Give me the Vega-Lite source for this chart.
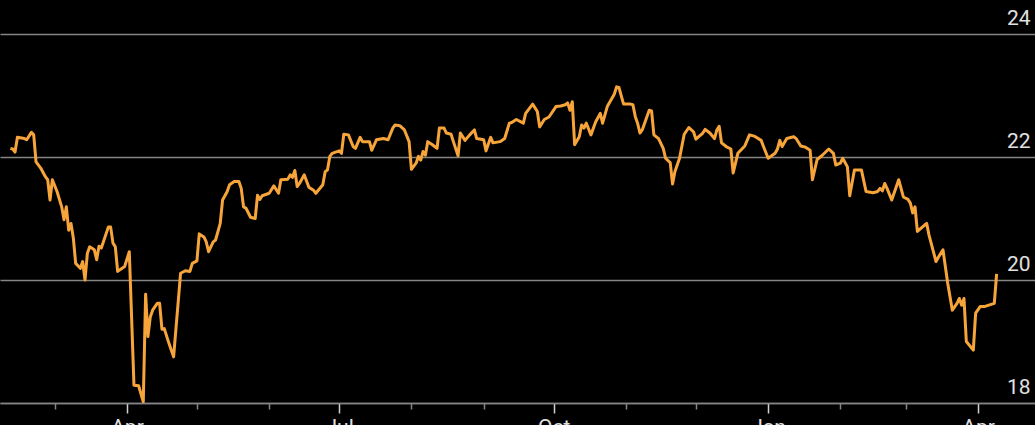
{
  "$schema": "https://vega.github.io/schema/vega-lite/v6.json",
  "width": 1035,
  "height": 403,
  "autosize": {"type": "none"},
  "padding": {"left": 0, "top": 0, "right": 0, "bottom": 22},
  "background": "#000000",
  "config": {"view": {"stroke": null}, "font": "Roboto"},
  "data": {"values": [
    {"d":"2025-02-10","v":22.14},{"d":"2025-02-11","v":22.13},{"d":"2025-02-12","v":22.08},{"d":"2025-02-13","v":22.32},
    {"d":"2025-02-16","v":22.30},{"d":"2025-02-17","v":22.28},{"d":"2025-02-19","v":22.40},{"d":"2025-02-20","v":22.36},
    {"d":"2025-02-21","v":21.92},{"d":"2025-02-23","v":21.82},{"d":"2025-02-25","v":21.68},{"d":"2025-02-26","v":21.63},
    {"d":"2025-02-27","v":21.30},{"d":"2025-02-28","v":21.63},{"d":"2025-03-02","v":21.44},{"d":"2025-03-04","v":21.19},
    {"d":"2025-03-05","v":20.98},{"d":"2025-03-06","v":21.19},{"d":"2025-03-07","v":20.81},{"d":"2025-03-08","v":20.92},
    {"d":"2025-03-09","v":20.68},{"d":"2025-03-10","v":20.27},{"d":"2025-03-12","v":20.19},{"d":"2025-03-13","v":20.30},
    {"d":"2025-03-14","v":20.00},{"d":"2025-03-15","v":20.43},{"d":"2025-03-16","v":20.54},{"d":"2025-03-18","v":20.49},
    {"d":"2025-03-19","v":20.33},{"d":"2025-03-20","v":20.55},{"d":"2025-03-21","v":20.52},{"d":"2025-03-24","v":20.86},
    {"d":"2025-03-25","v":20.86},{"d":"2025-03-26","v":20.60},{"d":"2025-03-27","v":20.54},{"d":"2025-03-28","v":20.14},
    {"d":"2025-03-31","v":20.22},{"d":"2025-04-02","v":20.46},{"d":"2025-04-04","v":18.29},{"d":"2025-04-06","v":18.28},
    {"d":"2025-04-08","v":18.02},{"d":"2025-04-09","v":19.77},{"d":"2025-04-10","v":19.08},{"d":"2025-04-11","v":19.40},
    {"d":"2025-04-12","v":19.51},{"d":"2025-04-14","v":19.62},{"d":"2025-04-15","v":19.62},{"d":"2025-04-16","v":19.20},
    {"d":"2025-04-17","v":19.21},{"d":"2025-04-19","v":18.97},{"d":"2025-04-21","v":18.75},{"d":"2025-04-24","v":20.11},
    {"d":"2025-04-26","v":20.15},{"d":"2025-04-28","v":20.14},{"d":"2025-04-29","v":20.27},{"d":"2025-05-01","v":20.31},
    {"d":"2025-05-02","v":20.75},{"d":"2025-05-04","v":20.70},{"d":"2025-05-05","v":20.62},{"d":"2025-05-06","v":20.46},
    {"d":"2025-05-08","v":20.62},{"d":"2025-05-09","v":20.65},{"d":"2025-05-11","v":20.92},{"d":"2025-05-12","v":21.30},
    {"d":"2025-05-14","v":21.44},{"d":"2025-05-15","v":21.55},{"d":"2025-05-17","v":21.60},{"d":"2025-05-19","v":21.60},
    {"d":"2025-05-20","v":21.49},{"d":"2025-05-21","v":21.19},{"d":"2025-05-22","v":21.17},{"d":"2025-05-24","v":21.02},
    {"d":"2025-05-26","v":21.00},{"d":"2025-05-27","v":21.38},{"d":"2025-05-28","v":21.31},{"d":"2025-05-29","v":21.37},
    {"d":"2025-06-01","v":21.41},{"d":"2025-06-03","v":21.53},{"d":"2025-06-05","v":21.41},{"d":"2025-06-06","v":21.63},
    {"d":"2025-06-09","v":21.64},{"d":"2025-06-10","v":21.71},{"d":"2025-06-11","v":21.67},{"d":"2025-06-12","v":21.78},
    {"d":"2025-06-13","v":21.52},{"d":"2025-06-14","v":21.57},{"d":"2025-06-16","v":21.71},{"d":"2025-06-18","v":21.51},
    {"d":"2025-06-20","v":21.46},{"d":"2025-06-21","v":21.41},{"d":"2025-06-24","v":21.55},{"d":"2025-06-25","v":21.76},
    {"d":"2025-06-26","v":21.79},{"d":"2025-06-27","v":22.01},{"d":"2025-06-28","v":22.06},{"d":"2025-07-01","v":22.10},
    {"d":"2025-07-02","v":22.06},{"d":"2025-07-03","v":22.37},{"d":"2025-07-05","v":22.36},{"d":"2025-07-07","v":22.17},
    {"d":"2025-07-08","v":22.14},{"d":"2025-07-10","v":22.32},{"d":"2025-07-11","v":22.25},{"d":"2025-07-14","v":22.25},
    {"d":"2025-07-15","v":22.11},{"d":"2025-07-17","v":22.28},{"d":"2025-07-20","v":22.30},{"d":"2025-07-22","v":22.28},
    {"d":"2025-07-24","v":22.47},{"d":"2025-07-25","v":22.52},{"d":"2025-07-27","v":22.51},{"d":"2025-07-29","v":22.44},
    {"d":"2025-07-31","v":22.25},{"d":"2025-08-01","v":21.80},{"d":"2025-08-03","v":21.90},{"d":"2025-08-04","v":22.01},
    {"d":"2025-08-05","v":21.95},{"d":"2025-08-06","v":22.09},{"d":"2025-08-07","v":22.03},{"d":"2025-08-08","v":22.25},
    {"d":"2025-08-10","v":22.20},{"d":"2025-08-12","v":22.14},{"d":"2025-08-13","v":22.47},{"d":"2025-08-15","v":22.47},
    {"d":"2025-08-16","v":22.39},{"d":"2025-08-18","v":22.37},{"d":"2025-08-19","v":22.25},{"d":"2025-08-21","v":22.02},
    {"d":"2025-08-22","v":22.39},{"d":"2025-08-24","v":22.27},{"d":"2025-08-26","v":22.36},{"d":"2025-08-28","v":22.44},
    {"d":"2025-08-29","v":22.30},{"d":"2025-09-01","v":22.28},{"d":"2025-09-02","v":22.10},{"d":"2025-09-04","v":22.32},
    {"d":"2025-09-05","v":22.23},{"d":"2025-09-08","v":22.25},{"d":"2025-09-10","v":22.30},{"d":"2025-09-12","v":22.55},
    {"d":"2025-09-13","v":22.56},{"d":"2025-09-15","v":22.61},{"d":"2025-09-18","v":22.55},{"d":"2025-09-19","v":22.71},
    {"d":"2025-09-22","v":22.86},{"d":"2025-09-24","v":22.74},{"d":"2025-09-25","v":22.49},{"d":"2025-09-27","v":22.61},
    {"d":"2025-09-29","v":22.65},{"d":"2025-10-02","v":22.82},{"d":"2025-10-04","v":22.83},{"d":"2025-10-06","v":22.85},
    {"d":"2025-10-07","v":22.88},{"d":"2025-10-08","v":22.76},{"d":"2025-10-09","v":22.90},{"d":"2025-10-10","v":22.20},
    {"d":"2025-10-12","v":22.33},{"d":"2025-10-13","v":22.52},{"d":"2025-10-14","v":22.47},{"d":"2025-10-15","v":22.55},
    {"d":"2025-10-17","v":22.36},{"d":"2025-10-19","v":22.57},{"d":"2025-10-21","v":22.71},{"d":"2025-10-22","v":22.55},
    {"d":"2025-10-24","v":22.82},{"d":"2025-10-27","v":23.02},{"d":"2025-10-28","v":23.14},{"d":"2025-10-29","v":23.13},
    {"d":"2025-10-31","v":22.86},{"d":"2025-11-03","v":22.86},{"d":"2025-11-04","v":22.85},{"d":"2025-11-05","v":22.66},
    {"d":"2025-11-06","v":22.55},{"d":"2025-11-07","v":22.39},{"d":"2025-11-08","v":22.44},{"d":"2025-11-11","v":22.76},
    {"d":"2025-11-12","v":22.75},{"d":"2025-11-13","v":22.36},{"d":"2025-11-15","v":22.30},{"d":"2025-11-17","v":22.14},
    {"d":"2025-11-18","v":21.98},{"d":"2025-11-20","v":21.91},{"d":"2025-11-21","v":21.56},{"d":"2025-11-22","v":21.76},
    {"d":"2025-11-24","v":21.98},{"d":"2025-11-26","v":22.37},{"d":"2025-11-28","v":22.48},{"d":"2025-11-30","v":22.41},
    {"d":"2025-12-01","v":22.29},{"d":"2025-12-04","v":22.39},{"d":"2025-12-05","v":22.45},{"d":"2025-12-07","v":22.39},
    {"d":"2025-12-09","v":22.30},{"d":"2025-12-10","v":22.44},{"d":"2025-12-11","v":22.50},{"d":"2025-12-12","v":22.23},
    {"d":"2025-12-14","v":22.17},{"d":"2025-12-16","v":22.13},{"d":"2025-12-17","v":21.74},{"d":"2025-12-18","v":21.90},
    {"d":"2025-12-19","v":22.06},{"d":"2025-12-22","v":22.18},{"d":"2025-12-24","v":22.36},{"d":"2025-12-26","v":22.34},
    {"d":"2025-12-29","v":22.27},{"d":"2025-12-30","v":22.17},{"d":"2026-01-01","v":21.98},{"d":"2026-01-04","v":22.06},
    {"d":"2026-01-05","v":22.13},{"d":"2026-01-06","v":22.27},{"d":"2026-01-07","v":22.17},{"d":"2026-01-09","v":22.30},
    {"d":"2026-01-12","v":22.33},{"d":"2026-01-13","v":22.30},{"d":"2026-01-15","v":22.18},{"d":"2026-01-17","v":22.16},
    {"d":"2026-01-19","v":22.11},{"d":"2026-01-20","v":21.63},{"d":"2026-01-22","v":21.96},{"d":"2026-01-24","v":22.02},
    {"d":"2026-01-27","v":22.13},{"d":"2026-01-29","v":22.06},{"d":"2026-01-30","v":21.87},{"d":"2026-02-01","v":21.90},
    {"d":"2026-02-02","v":21.98},{"d":"2026-02-04","v":21.84},{"d":"2026-02-05","v":21.37},{"d":"2026-02-07","v":21.79},
    {"d":"2026-02-10","v":21.79},{"d":"2026-02-12","v":21.44},{"d":"2026-02-15","v":21.42},{"d":"2026-02-17","v":21.44},
    {"d":"2026-02-18","v":21.49},{"d":"2026-02-19","v":21.45},{"d":"2026-02-20","v":21.57},{"d":"2026-02-21","v":21.49},
    {"d":"2026-02-23","v":21.30},{"d":"2026-02-26","v":21.63},{"d":"2026-02-28","v":21.35},{"d":"2026-03-02","v":21.31},
    {"d":"2026-03-03","v":21.25},{"d":"2026-03-04","v":21.09},{"d":"2026-03-05","v":21.19},{"d":"2026-03-06","v":20.79},
    {"d":"2026-03-09","v":20.89},{"d":"2026-03-10","v":20.92},{"d":"2026-03-11","v":20.73},{"d":"2026-03-14","v":20.30},
    {"d":"2026-03-15","v":20.37},{"d":"2026-03-17","v":20.49},{"d":"2026-03-19","v":19.95},{"d":"2026-03-21","v":19.51},
    {"d":"2026-03-23","v":19.62},{"d":"2026-03-24","v":19.70},{"d":"2026-03-25","v":19.59},{"d":"2026-03-26","v":19.70},
    {"d":"2026-03-27","v":19.00},{"d":"2026-03-30","v":18.86},{"d":"2026-03-31","v":19.46},{"d":"2026-04-02","v":19.57},
    {"d":"2026-04-04","v":19.57},{"d":"2026-04-08","v":19.62},{"d":"2026-04-09","v":20.10}
  ]},
  "mark": {"type": "line", "color": "#f7a53b", "strokeWidth": 3, "strokeJoin": "round", "clip": true},
  "encoding": {
    "x": {
      "field": "d", "type": "temporal",
      "scale": {"type": "utc", "domain": [
        {"year": 2025, "month": 2, "date": 5, "hours": 13, "utc": true},
        {"year": 2026, "month": 4, "date": 25, "hours": 11, "utc": true}
      ]},
      "axis": {
        "title": null, "grid": false,
        "values": [
          {"year": 2025, "month": 3, "date": 1, "utc": true},
          {"year": 2025, "month": 4, "date": 1, "utc": true},
          {"year": 2025, "month": 5, "date": 1, "utc": true},
          {"year": 2025, "month": 6, "date": 1, "utc": true},
          {"year": 2025, "month": 7, "date": 1, "utc": true},
          {"year": 2025, "month": 8, "date": 1, "utc": true},
          {"year": 2025, "month": 9, "date": 1, "utc": true},
          {"year": 2025, "month": 10, "date": 1, "utc": true},
          {"year": 2025, "month": 11, "date": 1, "utc": true},
          {"year": 2025, "month": 12, "date": 1, "utc": true},
          {"year": 2026, "month": 1, "date": 1, "utc": true},
          {"year": 2026, "month": 2, "date": 1, "utc": true},
          {"year": 2026, "month": 3, "date": 1, "utc": true},
          {"year": 2026, "month": 4, "date": 1, "utc": true}
        ],
        "labelExpr": "utcmonth(datum.value) % 3 == 0 ? utcFormat(datum.value, '%b') : ''",
        "domainColor": "#858585", "domainWidth": 1.5,
        "tickSize": {"condition": {"test": "utcmonth(datum.value) % 3 == 0", "value": 10}, "value": 6},
        "tickColor": {"condition": {"test": "utcmonth(datum.value) % 3 == 0", "value": "#d0d0d0"}, "value": "#858585"},
        "tickWidth": 1.5,
        "labelColor": "#e0e0e0", "labelFontSize": 21, "labelFont": "Roboto",
        "labelBaseline": "top", "labelPadding": 3,
        "labelOverlap": false, "labelBound": false, "labelFlush": false
      }
    },
    "y": {
      "field": "v", "type": "quantitative",
      "scale": {"domain": [18, 24.553], "nice": false, "zero": false},
      "axis": {
        "orient": "right", "title": null, "values": [18, 20, 22, 24],
        "grid": true, "gridColor": "#858585", "gridWidth": 1.5,
        "domain": false, "ticks": false, "tickSize": 0,
        "labelAlign": "right", "labelBaseline": "alphabetic",
        "labelPadding": -5, "labelOffset": -10,
        "labelFontSize": 21, "labelFont": "Roboto", "labelColor": "#e0e0e0",
        "labelOverlap": false, "labelBound": false, "labelFlush": false
      }
    }
  }
}
